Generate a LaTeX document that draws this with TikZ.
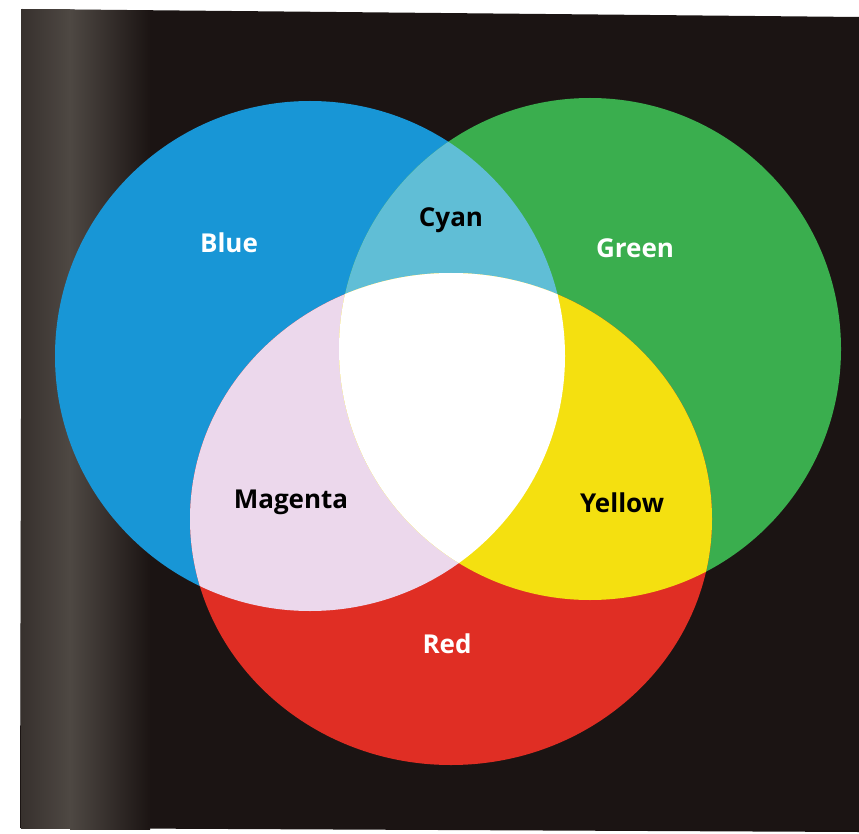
\documentclass[tikz,border=0pt]{standalone}
\usepackage{fontspec}
\setmainfont{Open Sans}
\usepackage{tikz}
\usetikzlibrary{positioning}

\definecolor{photoblack}{RGB}{27,20,19}
\definecolor{stripgrey}{RGB}{78,72,67}
\definecolor{lightblue}{RGB}{24,150,214}
\definecolor{lightgreen}{RGB}{58,174,78}
\definecolor{lightred}{RGB}{224,46,36}
\definecolor{mixcyan}{RGB}{96,190,214}
\definecolor{mixmagenta}{RGB}{236,216,236}
\definecolor{mixyellow}{RGB}{244,224,16}

\newcommand{\bluedisc}{(310,356) circle (255pt)}
\newcommand{\greendisc}{(590,349) circle (251pt)}
\newcommand{\reddisc}{(451,519) ellipse (261pt and 246pt)}

\tikzstyle{lightlabel} = [font=\bfseries\fontsize{26}{30}\selectfont, text=white, text height=19pt, text depth=0pt, inner sep=0pt]
\tikzstyle{darklabel} = [lightlabel, text=black]

\begin{document}
\begin{tikzpicture}[x=1pt, y=-1pt]
\useasboundingbox (0,0) rectangle (859,834);

% Photo background
\fill[white] (0,0) rectangle (859,834);
\fill[photoblack] (22,9) -- (859,17) -- (859,832) -- (20,828) -- cycle;
\shade[left color=stripgrey!55!photoblack, right color=stripgrey] (21,10) rectangle (70,828);
\shade[left color=stripgrey, right color=photoblack] (70,11) rectangle (150,829);

% Primary lights
\fill[lightblue] \bluedisc;
\fill[lightgreen] \greendisc;
\fill[lightred] \reddisc;

% Two lights mixed
\begin{scope}
  \clip \bluedisc;
  \fill[mixcyan] \greendisc;
\end{scope}
\begin{scope}
  \clip \bluedisc;
  \fill[mixmagenta] \reddisc;
\end{scope}
\begin{scope}
  \clip \greendisc;
  \fill[mixyellow] \reddisc;
\end{scope}

% All three lights
\begin{scope}
  \clip \bluedisc;
  \clip \greendisc;
  \fill[white] \reddisc;
\end{scope}

% Labels
\node (blue) [lightlabel] at (229,243) {Blue};
\node (green) [lightlabel] at (635,248) {Green};
\node (red) [lightlabel] at (447,644) {Red};
\node (cyan) [darklabel] at (451,217) {Cyan};
\node (magenta) [darklabel] at (291,499) {Magenta};
\node (yellow) [darklabel] at (622,503) {Yellow};

\end{tikzpicture}
\end{document}
